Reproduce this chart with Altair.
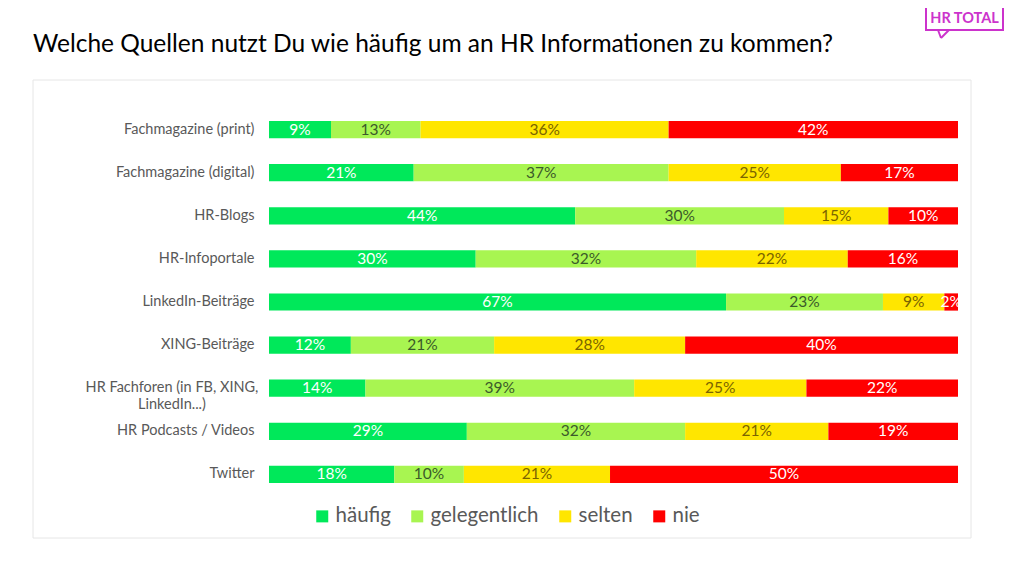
import altair as alt
import pandas as pd

categories = [
    "Fachmagazine (print)",
    "Fachmagazine (digital)",
    "HR-Blogs",
    "HR-Infoportale",
    "LinkedIn-Beiträge",
    "XING-Beiträge",
    "HR Fachforen (in FB, XING, LinkedIn...)",
    "HR Podcasts / Videos",
    "Twitter",
]
wrapped_category = "HR Fachforen (in FB, XING, LinkedIn...)"
wrapped_lines = "HR Fachforen (in FB, XING,|LinkedIn...)"
series = ["häufig", "gelegentlich", "selten", "nie"]
haeufig = [9, 21, 44, 30, 67, 12, 14, 29, 18]
gelegentlich = [13, 37, 30, 32, 23, 21, 39, 32, 10]
selten = [36, 25, 15, 22, 9, 28, 25, 21, 21]
nie = [42, 17, 10, 16, 2, 40, 22, 19, 50]

bar_colors = ["#00e85a", "#a8f551", "#ffe600", "#ff0000"]
text_colors = ["#ffffff", "#3b5a2a", "#7a6400", "#ffffff"]
title_text = "Welche Quellen nutzt Du wie häufig um an HR Informationen zu kommen?"
FONT = "Lato"
LABEL_SIZE = 14.5

rows = []
for s_i, (s, vals) in enumerate(zip(series, [haeufig, gelegentlich, selten, nie])):
    for c, v in zip(categories, vals):
        rows.append({"cat": c, "series": s, "idx": s_i, "v": v,
                     "label": f"{v}%", "tc": text_colors[s_i]})
df = pd.DataFrame(rows)

base = alt.Chart(df).transform_stack(
    stack="v", groupby=["cat"], as_=["v0", "v1"], offset="normalize",
    sort=[alt.SortField("idx", order="ascending")]
).transform_calculate(mid="(datum.v0 + datum.v1) / 2")

y_scale = alt.Scale(domain=categories, paddingInner=0.6, paddingOuter=0.3)

y_enc = alt.Y(
    "cat:N", sort=categories, title=None, scale=y_scale,
    axis=alt.Axis(
        ticks=False, domain=False, labelPadding=15, labelFont=FONT,
        labelFontSize=LABEL_SIZE, labelColor="#595959", labelLimit=260,
        zindex=1,
        labelExpr=f"datum.value == '{wrapped_category}' ? '' : datum.label",
    ),
)

x_scale = alt.Scale(domain=[0, 1], nice=False, zero=True)

bars = base.mark_bar(cornerRadius=0).encode(
    x=alt.X("v0:Q", scale=x_scale, axis=None),
    x2="v1:Q",
    y=y_enc,
    color=alt.Color(
        "series:N", sort=series,
        scale=alt.Scale(domain=series, range=bar_colors),
        legend=alt.Legend(
            title=None, orient="none", legendX=43, legendY=398,
            direction="horizontal", columns=4, symbolType="square",
            symbolSize=144, symbolStrokeWidth=0, labelFont=FONT,
            labelFontSize=20.5, labelColor="#595959", columnPadding=16,
            labelOffset=3,
        ),
    ),
)

texts = base.mark_text(font=FONT, fontSize=15.5, baseline="middle", align="center").encode(
    x=alt.X("mid:Q", scale=x_scale),
    y=alt.Y("cat:N", sort=categories, scale=y_scale),
    text="label:N",
    color=alt.Color("tc:N", scale=None),
)

wrapped = alt.Chart(pd.DataFrame({"cat": [wrapped_category], "t": [wrapped_lines]})).mark_text(
    font=FONT, fontSize=LABEL_SIZE, color="#595959", align="center",
    baseline="middle", lineBreak="|", lineHeight=17,
).encode(
    x=alt.value(-97),
    y=alt.Y("cat:N", sort=categories, scale=y_scale),
    text="t:N",
)

one = pd.DataFrame({"t": [title_text]})

frame = alt.Chart(one).mark_rect(fillOpacity=0, stroke="#e6e6e6", strokeWidth=1).encode(
    x=alt.value(-236), x2=alt.value(702), y=alt.value(-28), y2=alt.value(430)
)

title = alt.Chart(one).mark_text(
    font=FONT, fontSize=24.5, align="left", baseline="middle", color="#000000"
).encode(x=alt.value(-236), y=alt.value(-63), text="t:N")

logo_box = alt.Chart(one).mark_rect(fill="white", stroke="#cc33cc", strokeWidth=2).encode(
    x=alt.value(657), x2=alt.value(734), y=alt.value(-101), y2=alt.value(-78)
)
logo_tail1 = alt.Chart(one).mark_rule(color="#cc33cc", strokeWidth=2).encode(
    x=alt.value(669), x2=alt.value(672), y=alt.value(-78), y2=alt.value(-70)
)
logo_tail2 = alt.Chart(one).mark_rule(color="#cc33cc", strokeWidth=2).encode(
    x=alt.value(672), x2=alt.value(680), y=alt.value(-70), y2=alt.value(-78)
)
logo_text = alt.Chart(pd.DataFrame({"t": ["HR TOTAL"]})).mark_text(
    font=FONT, fontSize=14.5, fontWeight="bold", color="#cc33cc",
    align="center", baseline="middle"
).encode(x=alt.value(695.5), y=alt.value(-89), text="t:N")

chart = alt.layer(
    frame, bars, texts, wrapped, title, logo_box, logo_tail1, logo_tail2, logo_text
).properties(
    width=689, height=388,
    autosize=alt.AutoSizeParams(type="none"),
    padding={"left": 261, "top": 100, "right": 58, "bottom": 70},
).configure(background="white").configure_view(strokeWidth=0, stroke=None)

chart.save("out.html", embed_options={"renderer": "svg", "actions": False})
